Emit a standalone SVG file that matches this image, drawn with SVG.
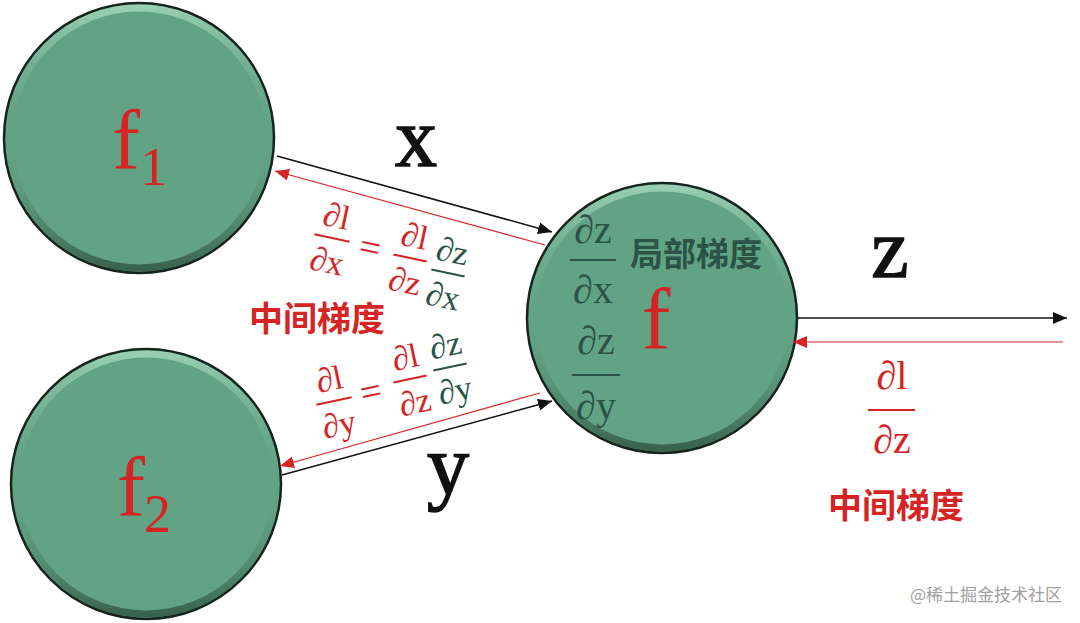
<svg xmlns="http://www.w3.org/2000/svg" width="1080" height="623" viewBox="0 0 1080 623">
<style>
.node{fill:#63a385;stroke:#16241d;stroke-width:2.5}
.bevel{fill:none;stroke:url(#bev);stroke-width:7;opacity:0.75}
.m{font-family:"Liberation Serif","DejaVu Serif",serif}
.red{fill:#d42424}
.teal{fill:#2b5348}
.bar-r{stroke:#d42424;stroke-width:2}
.bar-t{stroke:#2b5348;stroke-width:2.2}
.cjk{font-family:"Noto Sans CJK SC",sans-serif;font-weight:bold}
.blk{stroke:#111;stroke-width:1.5;fill:none}
.rd{stroke:#d42424;stroke-width:1.2;fill:none}
.var{font-family:"Liberation Serif","DejaVu Serif",serif;fill:#111;stroke:#111;stroke-width:1.6}
</style>
<defs>
<linearGradient id="bev" x1="0" y1="0" x2="0" y2="1">
<stop offset="0" stop-color="#a9dcc0"/>
<stop offset="0.5" stop-color="#63a385" stop-opacity="0"/>
<stop offset="1" stop-color="#2a4d3d"/>
</linearGradient>
<marker id="ab" markerUnits="userSpaceOnUse" markerWidth="16" markerHeight="12" refX="14" refY="6" orient="auto"><path d="M0,0 L14,6 L0,12 Z" fill="#111"/></marker>
<marker id="ar" markerUnits="userSpaceOnUse" markerWidth="16" markerHeight="12" refX="14" refY="6" orient="auto"><path d="M0,0 L14,6 L0,12 Z" fill="#d42424"/></marker>
</defs>
<rect width="1080" height="623" fill="#fff"/>

<g id="node-f1">
<circle class="node" cx="139" cy="138" r="135"/>
<circle class="bevel" cx="139" cy="138" r="130"/>
<text class="m red" x="112" y="168" font-size="84">f</text>
<text class="m red" x="140" y="185" font-size="54">1</text>
</g>
<g id="node-f2">
<circle class="node" cx="146" cy="484" r="135"/>
<circle class="bevel" cx="146" cy="484" r="130"/>
<text class="m red" x="117" y="515" font-size="84">f</text>
<text class="m red" x="144" y="532" font-size="54">2</text>
</g>
<g id="node-f">
<circle class="node" cx="662" cy="318" r="135"/>
<circle class="bevel" cx="662" cy="318" r="130"/>
<text class="m red" x="656" y="348" font-size="86" text-anchor="middle">f</text>
<text class="cjk teal" x="696" y="266" font-size="33" text-anchor="middle">局部梯度</text>
<text class="m teal" x="593" y="243" font-size="40" text-anchor="middle">∂z</text>
<line class="bar-t" x1="570" y1="260" x2="616" y2="260" stroke-width="3"/>
<text class="m teal" x="593" y="303" font-size="40" text-anchor="middle">∂x</text>
<text class="m teal" x="596" y="354" font-size="40" text-anchor="middle">∂z</text>
<line class="bar-t" x1="572" y1="375" x2="620" y2="375" stroke-width="3"/>
<text class="m teal" x="596" y="419" font-size="40" text-anchor="middle">∂y</text>
</g>

<g id="connectors">
<line class="blk" x1="277" y1="156" x2="552" y2="232" marker-end="url(#ab)"/>
<line class="rd" x1="545" y1="245" x2="275" y2="171" marker-end="url(#ar)"/>
<line class="blk" x1="282" y1="475" x2="552" y2="401" marker-end="url(#ab)"/>
<line class="rd" x1="540" y1="393" x2="280" y2="466" marker-end="url(#ar)"/>
<line class="blk" x1="797" y1="318" x2="1067" y2="318" marker-end="url(#ab)"/>
<line class="rd" x1="1063" y1="342" x2="793" y2="342" marker-end="url(#ar)"/>
</g>

<g id="labels">
<text class="var" x="416" y="166" font-size="84" text-anchor="middle">x</text>
<text class="var" x="448" y="494" font-size="84" text-anchor="middle">y</text>
<text class="var" x="890" y="277" font-size="84" text-anchor="middle">z</text>

<g id="eq-x">
<g transform="translate(332,238) rotate(12)">
<text class="m red" x="0" y="-11" font-size="34" text-anchor="middle">∂l</text>
<line class="bar-r" x1="-18" y1="0" x2="18" y2="0"/>
<text class="m red" x="0" y="35" font-size="34" text-anchor="middle">∂x</text>
</g>
<g transform="translate(370,248) rotate(12)">
<text class="m red" x="0" y="12" font-size="38" text-anchor="middle">=</text>
</g>
<g transform="translate(410,258) rotate(12)">
<text class="m red" x="0" y="-11" font-size="34" text-anchor="middle">∂l</text>
<line class="bar-r" x1="-17" y1="0" x2="17" y2="0"/>
<text class="m red" x="0" y="35" font-size="34" text-anchor="middle">∂z</text>
</g>
<g transform="translate(448,273) rotate(12)">
<text class="m teal" x="0" y="-11" font-size="34" text-anchor="middle">∂z</text>
<line class="bar-t" x1="-17" y1="0" x2="17" y2="0"/>
<text class="m teal" x="0" y="35" font-size="34" text-anchor="middle">∂x</text>
</g>
</g>

<g id="eq-y">
<g transform="translate(334,401) rotate(-12)">
<text class="m red" x="0" y="-11" font-size="34" text-anchor="middle">∂l</text>
<line class="bar-r" x1="-18" y1="0" x2="18" y2="0"/>
<text class="m red" x="0" y="35" font-size="34" text-anchor="middle">∂y</text>
</g>
<g transform="translate(371,392) rotate(-12)">
<text class="m red" x="0" y="12" font-size="38" text-anchor="middle">=</text>
</g>
<g transform="translate(410,379) rotate(-12)">
<text class="m red" x="0" y="-11" font-size="34" text-anchor="middle">∂l</text>
<line class="bar-r" x1="-17" y1="0" x2="17" y2="0"/>
<text class="m red" x="0" y="35" font-size="34" text-anchor="middle">∂z</text>
</g>
<g transform="translate(450,367) rotate(-12)">
<text class="m teal" x="0" y="-11" font-size="34" text-anchor="middle">∂z</text>
<line class="bar-t" x1="-17" y1="0" x2="17" y2="0"/>
<text class="m teal" x="0" y="35" font-size="34" text-anchor="middle">∂y</text>
</g>
</g>

<text class="m red" x="892" y="389" font-size="40" text-anchor="middle">∂l</text>
<line class="bar-r" x1="868" y1="410" x2="915" y2="410" stroke-width="2.5"/>
<text class="m red" x="892" y="453" font-size="40" text-anchor="middle">∂z</text>

<text class="cjk red" x="317" y="331" font-size="34" text-anchor="middle">中间梯度</text>
<text class="cjk red" x="896" y="518" font-size="34" text-anchor="middle">中间梯度</text>
<text x="1062" y="601" font-size="17" text-anchor="end" fill="#a0a0a0" font-family="Noto Sans CJK SC,sans-serif">@稀土掘金技术社区</text>
</g>
</svg>
